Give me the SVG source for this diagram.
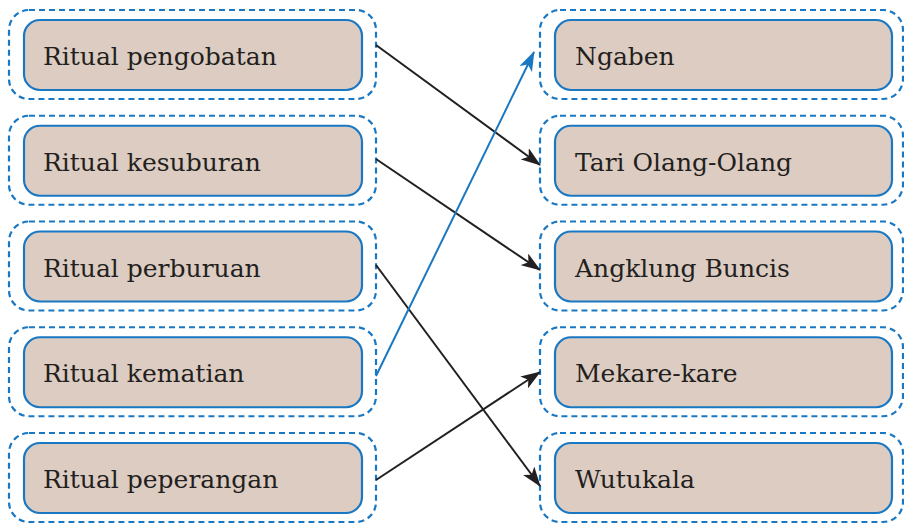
<svg xmlns="http://www.w3.org/2000/svg" width="904" height="524" viewBox="0 0 904 524">
<defs>
<style>
.outer{fill:none;stroke:#1a78c2;stroke-width:2.2;stroke-dasharray:6 4}
.inner{fill:#ddccc2;stroke:#1a78c2;stroke-width:2.2}
.lbl{font-family:"DejaVu Serif","Liberation Serif",serif;font-size:25px;fill:#231f20}
.cb{fill:none;stroke:#231f20;stroke-width:2}
.cu{fill:none;stroke:#1a78c2;stroke-width:2}
</style>
<marker id="ab" viewBox="0 0 20 14" refX="19" refY="7" markerWidth="20" markerHeight="14" markerUnits="userSpaceOnUse" orient="auto">
<path d="M0,0 L20,7 L0,14 L5,7 z" fill="#231f20"/>
</marker>
<marker id="au" viewBox="0 0 20 14" refX="19" refY="7" markerWidth="20" markerHeight="14" markerUnits="userSpaceOnUse" orient="auto">
<path d="M0,0 L20,7 L0,14 L5,7 z" fill="#1a78c2"/>
</marker>
</defs>
<g id="l1"><rect class="outer" x="9" y="10" width="367" height="89" rx="20"/><rect class="inner" x="24" y="20" width="338" height="70" rx="16"/><text class="lbl" x="43" y="65">Ritual pengobatan</text></g>
<g id="l2"><rect class="outer" x="9" y="115.75" width="367" height="89" rx="20"/><rect class="inner" x="24" y="125.75" width="338" height="70" rx="16"/><text class="lbl" x="43" y="170.75">Ritual kesuburan</text></g>
<g id="l3"><rect class="outer" x="9" y="221.5" width="367" height="89" rx="20"/><rect class="inner" x="24" y="231.5" width="338" height="70" rx="16"/><text class="lbl" x="43" y="276.5">Ritual perburuan</text></g>
<g id="l4"><rect class="outer" x="9" y="327.25" width="367" height="89" rx="20"/><rect class="inner" x="24" y="337.25" width="338" height="70" rx="16"/><text class="lbl" x="43" y="382.25">Ritual kematian</text></g>
<g id="l5"><rect class="outer" x="9" y="433" width="367" height="89" rx="20"/><rect class="inner" x="24" y="443" width="338" height="70" rx="16"/><text class="lbl" x="43" y="488">Ritual peperangan</text></g>
<g id="r1"><rect class="outer" x="540" y="10" width="363" height="89" rx="20"/><rect class="inner" x="555" y="20" width="337" height="70" rx="16"/><text class="lbl" x="575" y="65">Ngaben</text></g>
<g id="r2"><rect class="outer" x="540" y="115.75" width="363" height="89" rx="20"/><rect class="inner" x="555" y="125.75" width="337" height="70" rx="16"/><text class="lbl" x="575" y="170.75">Tari Olang-Olang</text></g>
<g id="r3"><rect class="outer" x="540" y="221.5" width="363" height="89" rx="20"/><rect class="inner" x="555" y="231.5" width="337" height="70" rx="16"/><text class="lbl" x="575" y="276.5">Angklung Buncis</text></g>
<g id="r4"><rect class="outer" x="540" y="327.25" width="363" height="89" rx="20"/><rect class="inner" x="555" y="337.25" width="337" height="70" rx="16"/><text class="lbl" x="575" y="382.25">Mekare-kare</text></g>
<g id="r5"><rect class="outer" x="540" y="433" width="363" height="89" rx="20"/><rect class="inner" x="555" y="443" width="337" height="70" rx="16"/><text class="lbl" x="575" y="488">Wutukala</text></g>
<g id="connectors">
<line class="cb" x1="376" y1="45" x2="540" y2="165" marker-end="url(#ab)"/>
<line class="cb" x1="376" y1="159" x2="540" y2="270" marker-end="url(#ab)"/>
<line class="cb" x1="376" y1="265" x2="540" y2="486" marker-end="url(#ab)"/>
<line class="cu" x1="376" y1="376" x2="534" y2="52" marker-end="url(#au)"/>
<line class="cb" x1="376" y1="480" x2="540" y2="372" marker-end="url(#ab)"/>
</g>
</svg>
